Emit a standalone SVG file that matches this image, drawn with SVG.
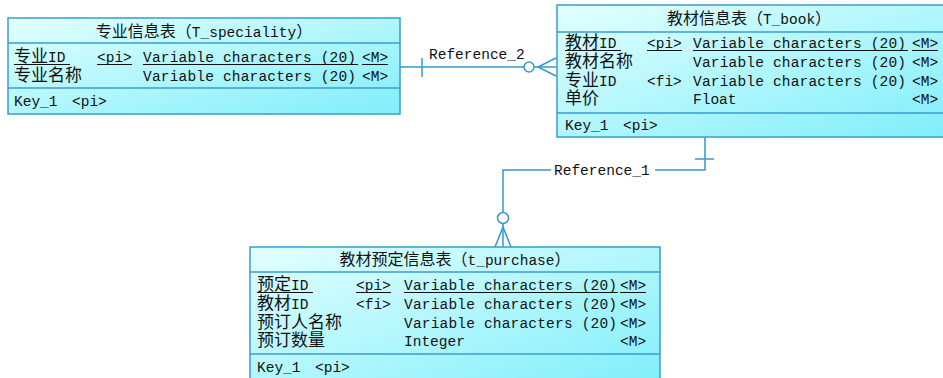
<svg xmlns="http://www.w3.org/2000/svg" width="943" height="378" viewBox="0 0 943 378">
<defs>
<linearGradient id="g" x1="0" y1="0" x2="1" y2="1">
<stop offset="0" stop-color="#e2ffff"/>
<stop offset="1" stop-color="#80eefa"/>
</linearGradient>
<style>
.box{fill:url(#g);stroke:#3a9cd0;stroke-width:1.5}
.sep{stroke:#3a9cd0;stroke-width:1.5}
.t{font-family:"Liberation Mono","Noto Sans CJK SC",monospace;font-size:14.5px;fill:#111}
.c{font-family:"Noto Sans CJK SC",sans-serif;font-size:16px}
.n{font-family:"Noto Sans CJK SC",sans-serif;font-size:17px}
.ul{stroke:#111;stroke-width:1}
.ln{fill:none;stroke:#3399cc;stroke-width:1.5}
.lbl{font-family:"Liberation Mono",monospace;font-size:14.5px;fill:#111}
</style>
</defs>
<rect width="943" height="378" fill="#ffffff"/>

<g id="connectors">
<g id="reference_2">
<line class="ln" x1="400" y1="67" x2="524" y2="67"/>
<line class="ln" x1="422" y1="58" x2="422" y2="77"/>
<circle class="ln" cx="529" cy="67" r="5" fill="#ffffff"/>
<line class="ln" x1="534" y1="67" x2="556" y2="67"/>
<path class="ln" d="M556 58 L538 67 L556 76"/>
<text class="lbl" x="429" y="59">Reference_2</text>
</g>
<g id="reference_1">
<path class="ln" d="M705 137 V170 H655"/>
<path class="ln" d="M551 170 H503 V212"/>
<line class="ln" x1="695" y1="159" x2="714" y2="159"/>
<circle class="ln" cx="503" cy="218" r="5.5" fill="#ffffff"/>
<line class="ln" x1="503" y1="224" x2="503" y2="247"/>
<path class="ln" d="M495 247 L503 227 L511 247"/>
<text class="lbl" x="554" y="175">Reference_1</text>
</g>
</g>

<g id="T_speciality">
<rect class="box" x="8" y="18" width="392" height="96"/>
<line class="sep" x1="8" y1="43" x2="400" y2="43"/>
<line class="sep" x1="8" y1="88" x2="400" y2="88"/>
<text class="t" x="204" y="37" text-anchor="middle"><tspan class="c">专业信息表（</tspan>T_speciality<tspan class="c">）</tspan></text>
<text class="t" x="14" y="62"><tspan class="n">专业</tspan>ID</text>
<text class="t" x="97" y="62">&lt;pi&gt;</text>
<text class="t" x="143" y="62" textLength="213" lengthAdjust="spacing">Variable characters (20)</text>
<text class="t" x="362" y="62">&lt;M&gt;</text>
<line class="ul" x1="14" y1="64.5" x2="70" y2="64.5"/>
<line class="ul" x1="97" y1="64.5" x2="132" y2="64.5"/>
<line class="ul" x1="143" y1="64.5" x2="358" y2="64.5"/>
<line class="ul" x1="362" y1="64.5" x2="388" y2="64.5"/>
<text class="t" x="14" y="81"><tspan class="n">专业名称</tspan></text>
<text class="t" x="143" y="81" textLength="213" lengthAdjust="spacing">Variable characters (20)</text>
<text class="t" x="362" y="81">&lt;M&gt;</text>
<text class="t" x="14" y="106">Key_1</text>
<text class="t" x="72" y="106">&lt;pi&gt;</text>
</g>

<g id="T_book">
<rect class="box" x="557" y="5" width="390" height="132"/>
<line class="sep" x1="557" y1="32" x2="947" y2="32"/>
<line class="sep" x1="557" y1="113" x2="947" y2="113"/>
<text class="t" x="749" y="24" text-anchor="middle"><tspan class="c">教材信息表（</tspan>T_book<tspan class="c">）</tspan></text>
<text class="t" x="565" y="48"><tspan class="n">教材</tspan>ID</text>
<text class="t" x="647" y="48">&lt;pi&gt;</text>
<text class="t" x="693" y="48" textLength="213" lengthAdjust="spacing">Variable characters (20)</text>
<text class="t" x="912" y="48">&lt;M&gt;</text>
<line class="ul" x1="565" y1="50.5" x2="621" y2="50.5"/>
<line class="ul" x1="647" y1="50.5" x2="682" y2="50.5"/>
<line class="ul" x1="693" y1="50.5" x2="908" y2="50.5"/>
<line class="ul" x1="912" y1="50.5" x2="938" y2="50.5"/>
<text class="t" x="565" y="67"><tspan class="n">教材名称</tspan></text>
<text class="t" x="693" y="67" textLength="213" lengthAdjust="spacing">Variable characters (20)</text>
<text class="t" x="912" y="67">&lt;M&gt;</text>
<text class="t" x="565" y="86"><tspan class="n">专业</tspan>ID</text>
<text class="t" x="647" y="86">&lt;fi&gt;</text>
<text class="t" x="693" y="86" textLength="213" lengthAdjust="spacing">Variable characters (20)</text>
<text class="t" x="912" y="86">&lt;M&gt;</text>
<text class="t" x="565" y="104"><tspan class="n">单价</tspan></text>
<text class="t" x="693" y="104">Float</text>
<text class="t" x="912" y="104">&lt;M&gt;</text>
<text class="t" x="565" y="130">Key_1</text>
<text class="t" x="623" y="130">&lt;pi&gt;</text>
</g>

<g id="t_purchase">
<rect class="box" x="250" y="247" width="410" height="140"/>
<line class="sep" x1="250" y1="272" x2="660" y2="272"/>
<line class="sep" x1="250" y1="354" x2="660" y2="354"/>
<text class="t" x="455" y="265" text-anchor="middle"><tspan class="c">教材预定信息表（</tspan>t_purchase<tspan class="c">）</tspan></text>
<text class="t" x="257" y="290"><tspan class="n">预定</tspan>ID</text>
<text class="t" x="356" y="290">&lt;pi&gt;</text>
<text class="t" x="404" y="290" textLength="213" lengthAdjust="spacing">Variable characters (20)</text>
<text class="t" x="620" y="290">&lt;M&gt;</text>
<line class="ul" x1="257" y1="292.5" x2="313" y2="292.5"/>
<line class="ul" x1="356" y1="292.5" x2="391" y2="292.5"/>
<line class="ul" x1="404" y1="292.5" x2="618" y2="292.5"/>
<line class="ul" x1="620" y1="292.5" x2="646" y2="292.5"/>
<text class="t" x="257" y="309"><tspan class="n">教材</tspan>ID</text>
<text class="t" x="356" y="309">&lt;fi&gt;</text>
<text class="t" x="404" y="309" textLength="213" lengthAdjust="spacing">Variable characters (20)</text>
<text class="t" x="620" y="309">&lt;M&gt;</text>
<text class="t" x="257" y="328"><tspan class="n">预订人名称</tspan></text>
<text class="t" x="404" y="328" textLength="213" lengthAdjust="spacing">Variable characters (20)</text>
<text class="t" x="620" y="328">&lt;M&gt;</text>
<text class="t" x="257" y="346"><tspan class="n">预订数量</tspan></text>
<text class="t" x="404" y="346">Integer</text>
<text class="t" x="620" y="346">&lt;M&gt;</text>
<text class="t" x="257" y="372">Key_1</text>
<text class="t" x="315" y="372">&lt;pi&gt;</text>
</g>
</svg>
